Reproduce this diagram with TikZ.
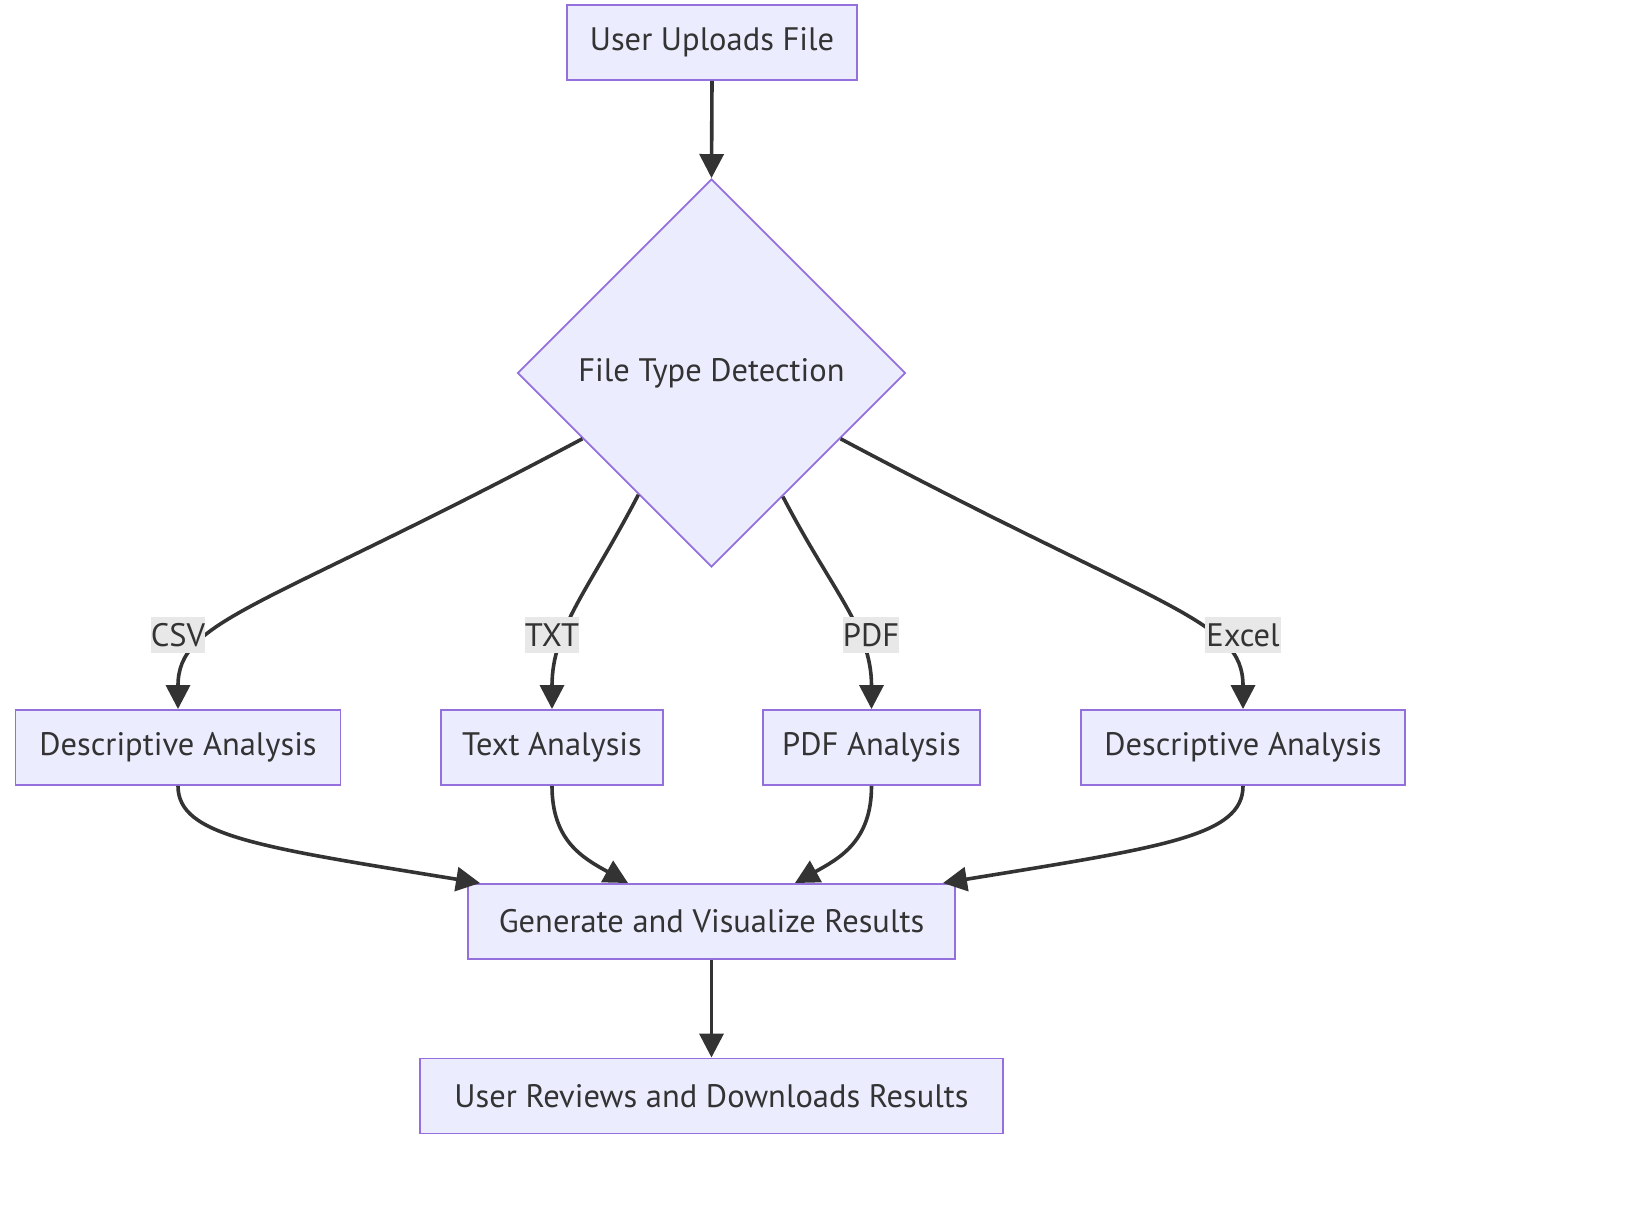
\documentclass[tikz,border=0pt]{standalone}
\usepackage{fontspec}
\setmainfont{PT Sans}
\usepackage{xcolor}
\usepackage{tikz}
\usetikzlibrary{positioning,%
  arrows.meta,%
  shapes.geometric
}
\definecolor{boxfill}{HTML}{ECECFF}
\definecolor{boxline}{HTML}{9370DB}
\definecolor{ink}{HTML}{333333}
\definecolor{lblfill}{HTML}{E8E8E8}

\begin{document}
\begin{tikzpicture}
                    [x=1pt, y=1pt,
                    op/.style={rectangle,
                        minimum height=75pt, inner sep=0pt,
                        fill=boxfill, draw=boxline, line width=1.9pt,
                        text=ink, font=\fontsize{32.5}{38}\selectfont},
                    cn/.style={diamond,
                        aspect=1, minimum size=388pt, inner sep=0pt,
                        fill=boxfill, draw=boxline, line width=1.9pt,
                        text=ink, font=\fontsize{32.5}{38}\selectfont},
                    lbl/.style={rectangle,
                        minimum height=36pt, inner sep=0pt,
                        fill=lblfill, text=ink,
                        font=\fontsize{32.5}{38}\selectfont},
                    ln/.style={draw=ink, line width=3.6pt,
                        -{Triangle[length=24pt,width=24pt]}}]

                    \useasboundingbox (0,0) rectangle (1642,-1212);

                    \node[op, minimum width=290pt] at (712,-42.5)
                        (up) {User Uploads File};
                    \node[cn] at (711.5,-373)
                        (det) {File Type Detection};
                    \node[op, minimum width=325pt] at (178,-747.5)
                        (csv) {Descriptive Analysis};
                    \node[op, minimum width=222pt] at (552,-747.5)
                        (txt) {Text Analysis};
                    \node[op, minimum width=217pt] at (871.5,-747.5)
                        (pdf) {PDF Analysis};
                    \node[op, minimum width=324pt] at (1243,-747.5)
                        (xls) {Descriptive Analysis};
                    \node[op, minimum width=487pt] at (711.5,-921.5)
                        (gen) {Generate and Visualize Results};
                    \node[op, minimum width=583pt] at (711.5,-1096)
                        (rev) {User Reviews and Downloads Results};

                    \draw[ln] (up.south) -- (det.north);
                    \draw[ln] (det.207) .. controls +(-323,-172) and +(0,90) .. (csv.north);
                    \draw[ln] (det.239.4) .. controls +(-50,-96) and +(0,80) .. (txt.north);
                    \draw[ln] (det.300.6) .. controls +(50,-96) and +(0,80) .. (pdf.north);
                    \draw[ln] (det.333) .. controls +(323,-172) and +(0,90) .. (xls.north);

                    \node[lbl, minimum width=52pt] at (178,-635) (lcsv) {CSV};
                    \node[lbl, minimum width=54pt] at (552,-635) (ltxt) {TXT};
                    \node[lbl, minimum width=54pt] at (871,-635) (lpdf) {PDF};
                    \node[lbl, minimum width=76pt] at (1243,-635) (lxls) {Excel};

                    \draw[ln] (csv.south) .. controls +(0,-50) and +(-221,36) .. ([xshift=13pt]gen.north west);
                    \draw[ln] (txt.south) .. controls +(0,-55) and +(-45,25) .. ([xshift=161pt]gen.north west);
                    \draw[ln] (pdf.south) .. controls +(0,-55) and +(45,25) .. ([xshift=-161pt]gen.north east);
                    \draw[ln] (xls.south) .. controls +(0,-50) and +(221,36) .. ([xshift=-13pt]gen.north east);
                    \draw[ln] (gen.south) -- (rev.north);
                \end{tikzpicture}
\end{document}
